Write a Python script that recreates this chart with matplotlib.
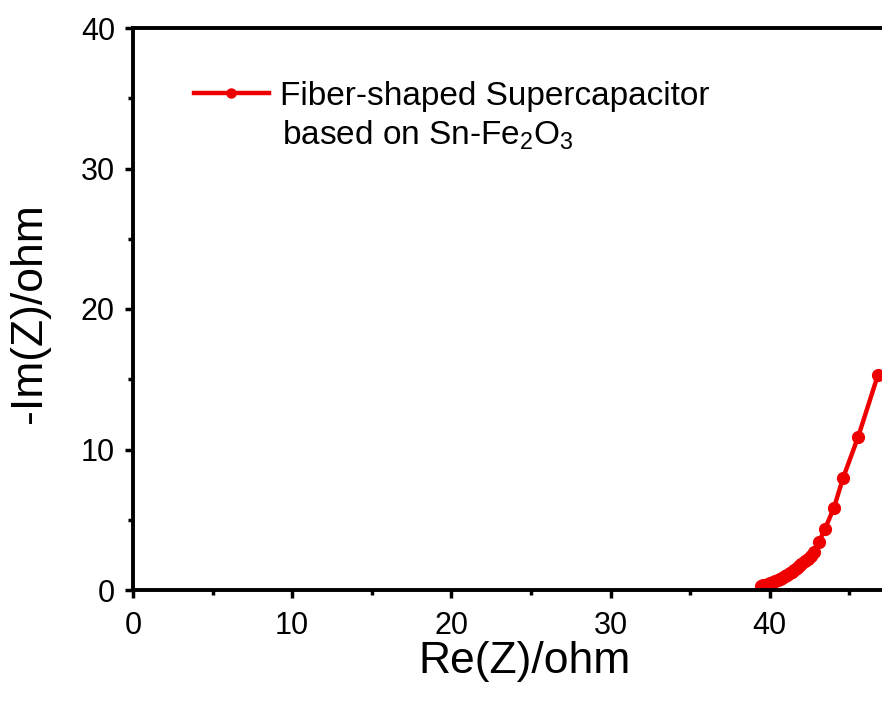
import numpy as np
import matplotlib.pyplot as plt
from matplotlib.ticker import MultipleLocator

plt.rcParams['font.family'] = ['Liberation Sans', 'DejaVu Sans']
plt.rcParams['mathtext.fontset'] = 'custom'
plt.rcParams['mathtext.rm'] = 'Liberation Sans'
plt.rcParams['mathtext.it'] = 'Liberation Sans'

# Nyquist data
re_z = [39.45, 39.6, 39.75, 39.9, 40.05, 40.2, 40.35, 40.5, 40.65, 40.8,
        40.95, 41.1, 41.25, 41.4, 41.55, 41.7, 41.85, 42.0, 42.2, 42.4,
        42.59, 42.78, 43.1, 43.47, 44.04, 44.62, 45.56, 46.8]
im_z = [0.30, 0.33, 0.37, 0.42, 0.48, 0.55, 0.62, 0.70, 0.78, 0.87,
        0.97, 1.07, 1.18, 1.30, 1.43, 1.56, 1.70, 1.85, 2.03, 2.22,
        2.42, 2.73, 3.44, 4.34, 5.86, 8.0, 10.9, 15.3]

label1 = 'Fiber-shaped Supercapacitor'
label2 = 'based on Sn-Fe$_2$O$_3$'

W, H = 882, 709
fig = plt.figure(figsize=(W / 100, H / 100), dpi=100)
# axes runs past the right edge, like the cropped original
ax = fig.add_axes([133 / W, 1 - 590 / H, 764 / W, 562 / H])

red = '#ee0000'
ax.plot(re_z, im_z, color=red, lw=3.2, marker='o', ms=8.5, label=label1)

ax.set_xlim(0, 48)
ax.set_ylim(0, 40)
ax.xaxis.set_major_locator(MultipleLocator(10))
ax.xaxis.set_minor_locator(MultipleLocator(5))
ax.yaxis.set_major_locator(MultipleLocator(10))
ax.yaxis.set_minor_locator(MultipleLocator(5))

for s in ax.spines.values():
    s.set_linewidth(2.8)
ax.tick_params(which='major', direction='out', length=6, width=2.5,
               labelsize=22)
ax.tick_params(which='minor', direction='out', length=3.5, width=2.5)
ax.tick_params(axis='x', which='major', pad=9)
ax.tick_params(axis='y', which='major', pad=7)

ax.set_xlabel('Re(Z)/ohm', fontsize=32)
ax.set_ylabel('-Im(Z)/ohm', fontsize=32)
ax.xaxis.set_label_coords(0.512, -0.09)
ax.yaxis.set_label_coords(-0.108, 0.493)

leg = ax.legend(loc='upper left', bbox_to_anchor=(0.0798, 0.906), frameon=False,
                fontsize=24, handlelength=2.25, handletextpad=0.33,
                borderpad=0, borderaxespad=0)
for h in leg.legend_handles:
    h.set_markersize(6.5)
ax.text(0.195, 0.792, label2, transform=ax.transAxes, fontsize=24,
        va='baseline', ha='left')

fig.savefig('out.png', dpi=100)
